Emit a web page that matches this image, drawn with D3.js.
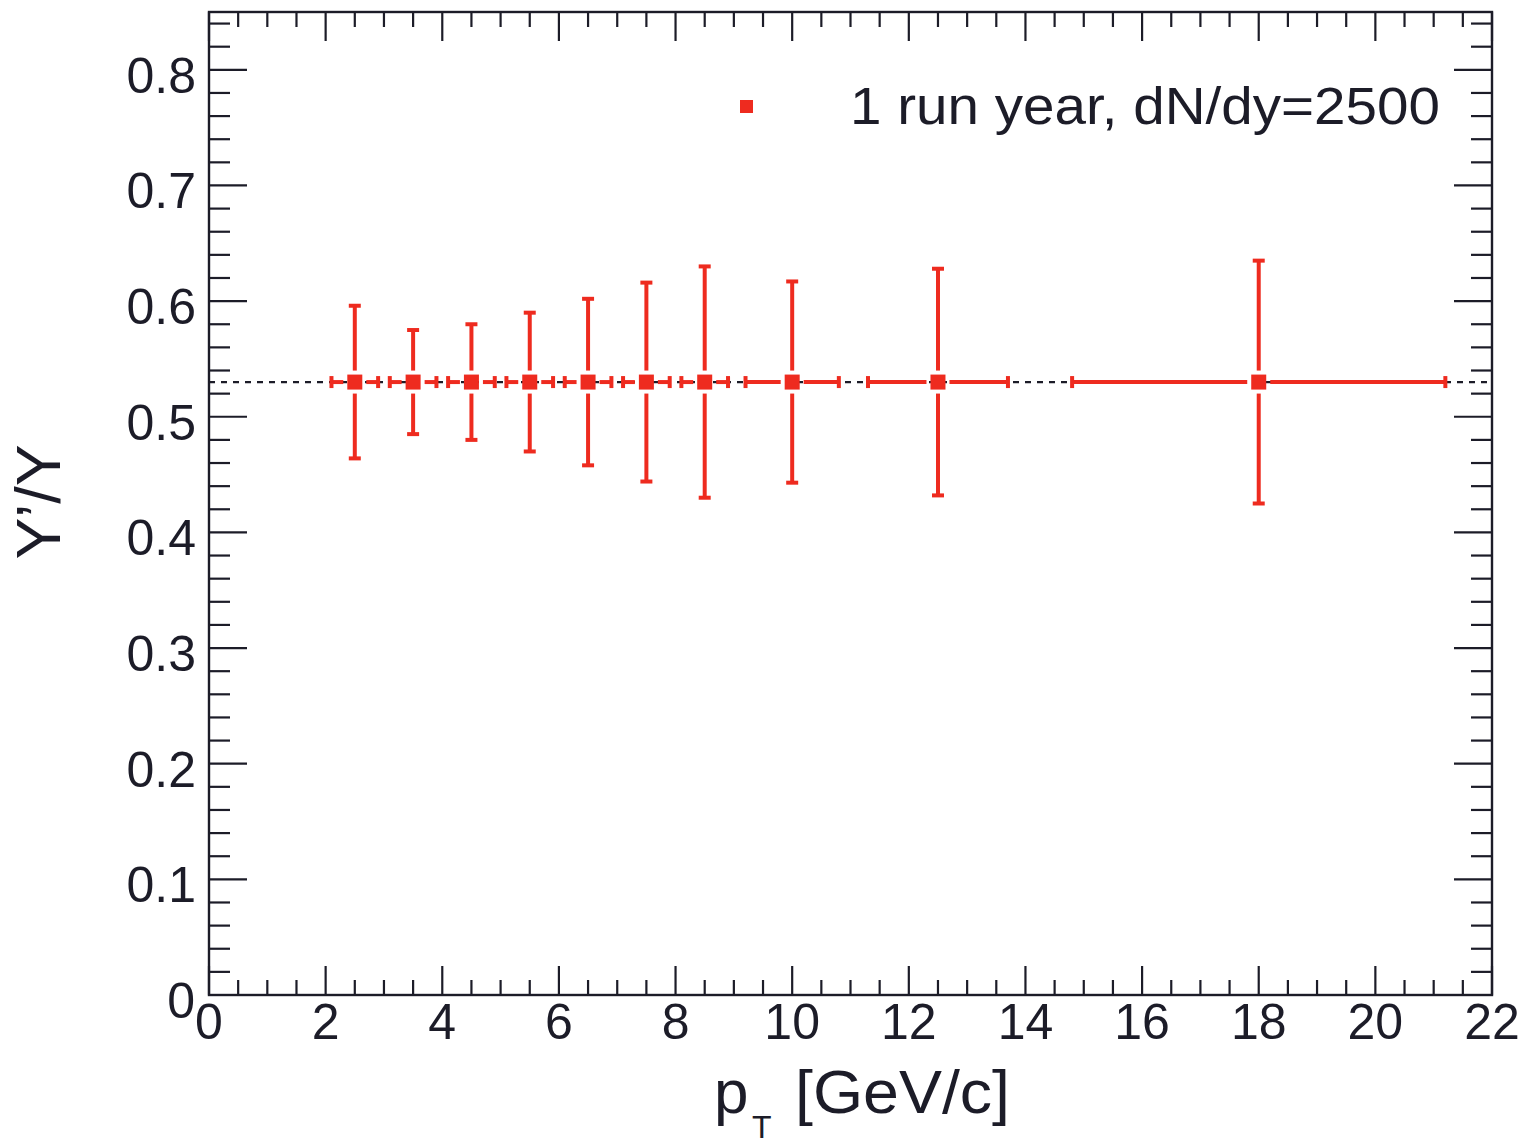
<!DOCTYPE html>
<html><head><meta charset="utf-8">
<script src="https://cdn.jsdelivr.net/npm/d3@7"></script>
<style>
html,body{margin:0;padding:0;background:#fff;}
svg{display:block;}
text{font-family:"Liberation Sans",Arial,Helvetica,sans-serif;fill:#1c1c28;}
</style></head>
<body>
<script>
// ---- data ----
const ptValues   = [2.5, 3.5, 4.5, 5.5, 6.5, 7.5, 8.5, 10, 12.5, 18];
const ptErrors   = [0.4, 0.4, 0.4, 0.4, 0.4, 0.4, 0.4, 0.8, 1.2, 3.2];
const ratioValues = [0.53, 0.53, 0.53, 0.53, 0.53, 0.53, 0.53, 0.53, 0.53, 0.53];
const ratioErrors = [0.066, 0.045, 0.050, 0.060, 0.072, 0.086, 0.100, 0.087, 0.098, 0.105];
const referenceLevel = 0.53;
const xTickLabels = [0, 2, 4, 6, 8, 10, 12, 14, 16, 18, 20, 22];
const yTickLabels = [0, 0.1, 0.2, 0.3, 0.4, 0.5, 0.6, 0.7, 0.8];
const legendLabel = "1 run year, dN/dy=2500";
const xTitle = "p";
const xTitleSub = "T";
const xTitleRest = "[GeV/c]";
const yTitle = "Y\u2019/Y";

const W = 1535, H = 1145;
const L = 209, R = 1492, T = 12, B = 995;
const red = "#ee2b1f", ink = "#1c1c28";

const svg = d3.select("body").append("svg").attr("width", W).attr("height", H);

const x = d3.scaleLinear().domain([0, 22]).range([L, R]);
const y = d3.scaleLinear().domain([0, 0.85]).range([B, T]);

// frame
svg.append("rect").attr("x", L).attr("y", T).attr("width", R - L).attr("height", B - T)
  .attr("fill", "none").attr("stroke", ink).attr("stroke-width", 2.4);

// ticks (inward, mirrored)
const g = svg.append("g").attr("stroke", ink).attr("stroke-width", 2.2);
const xMinor = d3.range(0, 22.001, 0.5);
xMinor.forEach(v => {
  const major = Math.abs(v / 2 - Math.round(v / 2)) < 1e-6;
  const len = major ? 29 : 15;
  g.append("line").attr("x1", x(v)).attr("x2", x(v)).attr("y1", B).attr("y2", B - len);
  g.append("line").attr("x1", x(v)).attr("x2", x(v)).attr("y1", T).attr("y2", T + len);
});
const yMinor = d3.range(0, 0.8501, 0.02);
yMinor.forEach(v => {
  const major = Math.abs(v * 10 - Math.round(v * 10)) < 1e-6;
  const len = major ? 38 : 21;
  g.append("line").attr("y1", y(v)).attr("y2", y(v)).attr("x1", L).attr("x2", L + len);
  g.append("line").attr("y1", y(v)).attr("y2", y(v)).attr("x1", R).attr("x2", R - len);
});

// tick labels
svg.append("g").selectAll("text").data(xTickLabels).join("text")
  .attr("x", d => x(d)).attr("y", 1039).attr("text-anchor", "middle")
  .attr("font-size", 50).text(d => d);
svg.append("g").selectAll("text").data(yTickLabels).join("text")
  .attr("x", d => d === 0 ? 195 : 196).attr("y", d => y(d) + 23).attr("text-anchor", "end")
  .attr("font-size", 50).text(d => d === 0 ? "0" : d3.format(".1f")(d));

// axis titles
svg.append("text").attr("x", 714).attr("y", 1113).attr("font-size", 62).text(xTitle);
svg.append("text").attr("x", 752).attr("y", 1138).attr("font-size", 32).text(xTitleSub);
svg.append("text").attr("x", 795).attr("y", 1113).attr("font-size", 62)
  .attr("textLength", 215).attr("lengthAdjust", "spacingAndGlyphs").text(xTitleRest);

svg.append("text").attr("transform", "translate(60,502) rotate(-90)")
  .attr("text-anchor", "middle").attr("font-size", 63)
  .attr("textLength", 115).attr("lengthAdjust", "spacingAndGlyphs").text(yTitle);

// reference dashed line
svg.append("line").attr("x1", L).attr("x2", R)
  .attr("y1", y(referenceLevel)).attr("y2", y(referenceLevel))
  .attr("stroke", ink).attr("stroke-width", 2.2).attr("stroke-dasharray", "6,6");

// data points with error bars
const pts = ptValues.map((p, i) => ({x: p, ex: ptErrors[i], y: ratioValues[i], ey: ratioErrors[i]}));
const ms = 15, gap = 4, cap = 6, lw = 4;
const eg = svg.append("g").attr("stroke", red).attr("stroke-width", lw).attr("fill", "none");
pts.forEach(d => {
  const cx = x(d.x), cy = y(d.y);
  const xl = x(d.x - d.ex), xr = x(d.x + d.ex);
  const yt = y(d.y + d.ey), yb = y(d.y - d.ey);
  // horizontal
  eg.append("line").attr("x1", xl).attr("x2", cx - ms / 2 - gap).attr("y1", cy).attr("y2", cy);
  eg.append("line").attr("x1", cx + ms / 2 + gap).attr("x2", xr).attr("y1", cy).attr("y2", cy);
  eg.append("line").attr("x1", xl).attr("x2", xl).attr("y1", cy - cap).attr("y2", cy + cap);
  eg.append("line").attr("x1", xr).attr("x2", xr).attr("y1", cy - cap).attr("y2", cy + cap);
  // vertical
  eg.append("line").attr("x1", cx).attr("x2", cx).attr("y1", yt).attr("y2", cy - ms / 2 - gap);
  eg.append("line").attr("x1", cx).attr("x2", cx).attr("y1", cy + ms / 2 + gap).attr("y2", yb);
  eg.append("line").attr("x1", cx - cap).attr("x2", cx + cap).attr("y1", yt).attr("y2", yt);
  eg.append("line").attr("x1", cx - cap).attr("x2", cx + cap).attr("y1", yb).attr("y2", yb);
});
svg.append("g").selectAll("rect").data(pts).join("rect")
  .attr("x", d => x(d.x) - ms / 2).attr("y", d => y(d.y) - ms / 2)
  .attr("width", ms).attr("height", ms).attr("fill", red);

// legend
svg.append("rect").attr("x", 740).attr("y", 100).attr("width", 13).attr("height", 13).attr("fill", red);
svg.append("text").attr("x", 850).attr("y", 124).attr("font-size", 51)
  .attr("textLength", 590).attr("lengthAdjust", "spacingAndGlyphs").text(legendLabel);
</script>
</body></html>
